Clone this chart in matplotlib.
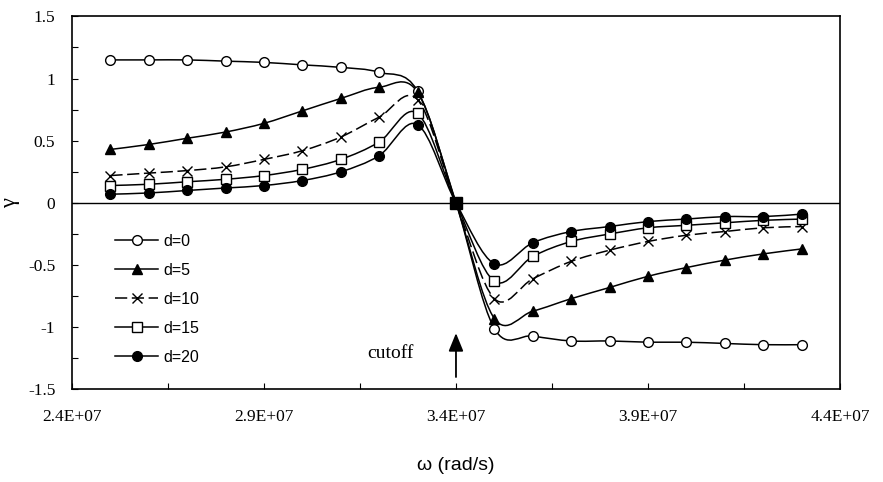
import matplotlib
matplotlib.use("Agg")
import matplotlib.pyplot as plt
from matplotlib.path import Path
from matplotlib.patches import PathPatch
from matplotlib.lines import Line2D
from matplotlib.ticker import MultipleLocator, FuncFormatter

# frequency points (rad/s)
omega = [2.5e7, 2.6e7, 2.7e7, 2.8e7, 2.9e7, 3.0e7, 3.1e7, 3.2e7, 3.3e7, 3.4e7,
         3.5e7, 3.6e7, 3.7e7, 3.8e7, 3.9e7, 4.0e7, 4.1e7, 4.2e7, 4.3e7]

gamma_d0 = [1.15, 1.15, 1.15, 1.14, 1.13, 1.11, 1.09, 1.05, 0.90, 0.0,
            -1.01, -1.07, -1.11, -1.11, -1.12, -1.12, -1.13, -1.14, -1.14]
gamma_d5 = [0.43, 0.47, 0.52, 0.57, 0.64, 0.74, 0.84, 0.93, 0.89, 0.0,
            -0.93, -0.87, -0.77, -0.68, -0.59, -0.52, -0.46, -0.41, -0.37]
gamma_d10 = [0.22, 0.24, 0.26, 0.29, 0.35, 0.42, 0.53, 0.69, 0.83, 0.0,
             -0.77, -0.61, -0.47, -0.38, -0.31, -0.26, -0.23, -0.20, -0.19]
gamma_d15 = [0.14, 0.15, 0.17, 0.19, 0.22, 0.27, 0.35, 0.49, 0.72, 0.0,
             -0.63, -0.43, -0.31, -0.25, -0.20, -0.18, -0.16, -0.14, -0.13]
gamma_d20 = [0.07, 0.08, 0.10, 0.12, 0.14, 0.18, 0.25, 0.38, 0.63, 0.0,
             -0.49, -0.32, -0.23, -0.19, -0.15, -0.13, -0.11, -0.11, -0.09]

labels = ["d=0", "d=5", "d=10", "d=15", "d=20"]
cutoff = 3.4e7

serif = "Liberation Serif"
sans = "Liberation Sans"


def smooth_path(x, y):
    # excel-style smoothed line: bezier segments with catmull-rom control points
    verts = [(x[0], y[0])]
    codes = [Path.MOVETO]
    n = len(x)
    for i in range(n - 1):
        x0, y0 = x[max(i - 1, 0)], y[max(i - 1, 0)]
        x1, y1 = x[i], y[i]
        x2, y2 = x[i + 1], y[i + 1]
        x3, y3 = x[min(i + 2, n - 1)], y[min(i + 2, n - 1)]
        verts += [(x1 + (x2 - x0) / 6, y1 + (y2 - y0) / 6),
                  (x2 - (x3 - x1) / 6, y2 - (y3 - y1) / 6),
                  (x2, y2)]
        codes += [Path.CURVE4] * 3
    return Path(verts, codes)


fig = plt.figure(figsize=(8.83, 4.82), dpi=100)
ax = fig.add_axes([0.0815, 0.192, 0.8698, 0.774])

series = [gamma_d0, gamma_d5, gamma_d10, gamma_d15, gamma_d20]
styles = [
    dict(marker="o", mfc="white", ls="-"),
    dict(marker="^", mfc="black", ls="-"),
    dict(marker="x", mfc="black", ls=(0, (8, 3))),
    dict(marker="s", mfc="white", ls="-"),
    dict(marker="o", mfc="black", ls="-"),
]

handles = []
for vals, st, lab in zip(series, styles, labels):
    patch = PathPatch(smooth_path(omega, vals), fill=False, edgecolor="black",
                      lw=1.1, linestyle=st["ls"], zorder=2)
    ax.add_patch(patch)
    ax.plot(omega, vals, linestyle="none", marker=st["marker"], ms=7,
            mfc=st["mfc"], mec="black", mew=1.0, zorder=3)
    handles.append(Line2D([], [], color="black", lw=1.1, linestyle=st["ls"],
                          marker=st["marker"], ms=7, mfc=st["mfc"],
                          mec="black", mew=1.0))

# all curves meet at the cutoff
ci = omega.index(cutoff)
ax.plot(omega[ci], gamma_d20[ci], marker="s", ms=8, color="black", zorder=4)

ax.axhline(0, color="black", lw=1.0, zorder=1)

ax.set_xlim(2.4e7, 4.4e7)
ax.set_ylim(-1.5, 1.5)
ax.xaxis.set_major_locator(MultipleLocator(5e6, offset=4e6))
ax.xaxis.set_minor_locator(MultipleLocator(2.5e6, offset=1.5e6))
ax.yaxis.set_major_locator(MultipleLocator(0.5))
ax.yaxis.set_minor_locator(MultipleLocator(0.25))
ax.xaxis.set_major_formatter(FuncFormatter(lambda v, p: "%.1E" % v))
ax.yaxis.set_major_formatter(FuncFormatter(lambda v, p: "%g" % v))
ax.tick_params(which="both", direction="in", length=4, width=0.8)
ax.tick_params(axis="both", which="major", labelsize=12.5, labelfontfamily=serif)
ax.tick_params(axis="y", which="major", pad=12)
ax.tick_params(axis="x", which="major", pad=14)
for sp in ax.spines.values():
    sp.set_linewidth(1.2)

ax.set_ylabel("γ", fontfamily=serif, fontsize=16)
ax.yaxis.set_label_coords(-0.068, 0.5)
ax.set_xlabel("ω (rad/s)", fontfamily=sans, fontsize=14)
ax.xaxis.set_label_coords(0.5, -0.18)

ax.text(3.168e7, -1.21, "cutoff", fontfamily=serif, fontsize=14,
        ha="left", va="center")
ax.annotate("", xy=(cutoff, -1.047), xytext=(cutoff, -1.40),
            arrowprops=dict(arrowstyle="-|>,head_length=1.1,head_width=0.45",
                            mutation_scale=10, lw=1.3, color="black",
                            shrinkA=0, shrinkB=0))

ax.legend(handles, labels, loc="upper left", bbox_to_anchor=(0.056, 0.418),
          frameon=False, borderpad=0, borderaxespad=0, handlelength=2.7,
          handletextpad=0.3, labelspacing=0.88,
          prop={"family": sans, "size": 11.5})

fig.savefig("out.png", dpi=100)
